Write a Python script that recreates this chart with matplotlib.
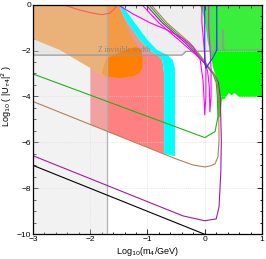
import numpy as np
import matplotlib.pyplot as plt
from matplotlib.ticker import MultipleLocator

# ---- region boundaries (log10 m4 [GeV], log10 |U|^2) ----
# pink region (bottom follows brown curve)
pink_x = [-2.0, -2.0, -1.5, -1.38, -1.13, -0.96, -0.83, -0.74, -0.72, -0.71, -0.71]
pink_y = [-5.22, 0.0, 0.0, -0.67, -1.54, -1.98, -2.2, -2.41, -2.8, -3.0, -6.5]

# cyan band
cyan_x = [-1.5, -1.38, -1.13, -0.96, -0.83, -0.74, -0.72, -0.71, -0.71,
          -0.52, -0.52, -0.56, -0.65, -0.83, -1.0, -1.26, -1.45]
cyan_y = [0.0, -0.67, -1.54, -1.98, -2.2, -2.41, -2.8, -3.0, -6.5,
          -6.6, -2.8, -2.41, -2.2, -1.98, -1.54, -0.67, 0.0]

# orange region (top left)
orange_x = [-3.0, -3.0, -2.53, -2.0, -1.83, -1.48, -1.25, -1.12, -1.08, -1.08,
            -1.13, -1.31, -1.5, -1.53]
orange_y = [0.0, -1.5, -1.98, -2.76, -3.07, -3.2, -3.15, -2.98, -2.72, -2.4,
            -1.98, -1.24, -0.1, 0.0]

# darker orange blob
blob_x = [-1.8, -1.72, -1.55, -1.35, -1.2, -1.11, -1.08, -1.09, -1.13, -1.25,
          -1.48, -1.72]
blob_y = [-3.0, -2.35, -2.15, -1.95, -1.85, -1.95, -2.4, -2.75, -2.98, -3.12,
          -3.2, -3.13]

# green region (top right)
green_x = [-0.09, 1.0, 1.0, 0.6, 0.52, 0.47, 0.42, 0.35, 0.3, 0.27, 0.24,
           0.22, 0.2, 0.14, 0.1, 0.05, 0.02, -0.03]
green_y = [0.0, 0.0, -4.02, -4.02, -3.85, -3.95, -3.85, -4.1, -4.15, -4.9, -4.9,
           -3.6, -3.15, -2.7, -2.1, -1.6, -1.0, -0.4]

# Z invisible width line
z_x = [-3.0, -0.4, -0.33, 0.18, 0.2, 0.21, 0.22, 0.24, 0.3, 0.31, 0.32, 0.33, 0.35, 1.0]
z_y = [-2.2, -2.2, -2.04, -2.02, -1.8, -1.1, -1.8, -2.0, -2.0, -1.5, -1.1, -1.9, -1.98, -1.98]

m_line = -1.71   # vertical grey line

# ---- curves ----
red_x = [-2.48, -2.3, -2.18, -2.0, -1.88, -1.8, -1.66, -1.57, -1.52]
red_y = [0.0, -0.15, -0.24, -0.35, -0.41, -0.44, -0.38, -0.16, 0.0]

black_x = [-3.0, 0.0]
black_y = [-7.0, -10.0]

purple_x = [-1.03, -0.74, -0.34, -0.09, 0.06, 0.17, 0.24, 0.27, 0.29, 0.28, 0.25,
            0.2, 0.0, -0.38, -0.96, -3.0]
purple_y = [0.0, -0.8, -1.67, -2.3, -2.75, -3.05, -3.4, -4.0, -5.9, -7.33, -8.8,
            -9.33, -9.41, -9.2, -8.62, -6.58]

brown_x = [-0.94, -0.66, -0.26, -0.05, 0.08, 0.17, 0.22, 0.24, 0.25, 0.23, 0.18,
           0.1, 0.0, -0.21, -0.5, -3.0]
brown_y = [0.0, -0.8, -1.67, -2.3, -2.75, -3.05, -3.4, -4.0, -5.9, -6.63, -6.93,
           -7.02, -7.07, -6.98, -6.72, -4.22]

green_line_x = [-0.98, -0.7, -0.3, -0.07, 0.06, 0.15, 0.2, 0.22, 0.23, 0.18, 0.0, -3.0]
green_line_y = [0.0, -0.8, -1.67, -2.3, -2.75, -3.05, -3.4, -4.0, -4.88, -5.53, -5.79, -3.02]

magA_x = [-1.52, -1.26, -0.95, -0.66, -0.4, -0.2, -0.08, -0.03, -0.01, 0.0, 0.02,
          0.02, -0.02, -0.05, -0.05]
magA_y = [0.0, -0.4, -0.8, -1.1, -1.45, -1.85, -2.4, -3.3, -4.2, -4.8, -4.0,
          -2.8, -1.6, -0.8, 0.0]

magB_x = [-1.1, -0.8, -0.4, -0.15, 0.0, 0.05, 0.08, 0.09, 0.11, 0.11, 0.09, 0.07, 0.07]
magB_y = [0.0, -0.8, -1.65, -2.2, -2.55, -2.9, -3.6, -4.67, -4.0, -2.8, -1.8, -1.0, 0.0]

blue_x = [0.0, 0.0, 0.02, 0.15, 0.21, 0.21]
blue_y = [0.0, -2.55, -2.77, -2.28, -1.98, 0.0]

# ---- figure ----
fig = plt.figure(figsize=(2.66, 2.59), dpi=100)
ax = fig.add_axes([0.124, 0.0954, 0.861, 0.887])
ax.set_xlim(-3, 1)
ax.set_ylim(-10, 0)

ax.grid(True, which='major', color='#d8d8d8', linestyle=':', linewidth=0.5, zorder=0)

ax.fill(pink_x, pink_y, color='#ff8080', lw=0, zorder=1)
ax.fill(green_x, green_y, color='#00ff00', lw=0, zorder=1)

# Z width shaded region (semi transparent grey)
zx = np.array(z_x)
zy = np.array(z_y)
ax.fill_between(zx, zy, 0, color='#c8c8c8', alpha=0.3, lw=0, zorder=2)

ax.fill(orange_x, orange_y, color='#f29a45', lw=0, zorder=3)
ax.fill(blob_x, blob_y, color='#ff8000', lw=0, zorder=3)
ax.fill(cyan_x, cyan_y, color='#00ffff', lw=0, zorder=3)

# left grey overlay
ax.axvspan(-3, m_line, color='#dcdcdc', alpha=0.35, lw=0, zorder=4)
ax.axvline(m_line, color='#b0b0b0', lw=0.9, zorder=5)
ax.plot(z_x, z_y, color='#999999', lw=0.9, zorder=5)
ax.text(-1.87, -2.17, 'Z invisible width', family='Liberation Serif', fontsize=5.5,
        color='#888888', va='bottom', ha='left', zorder=6)

lw = 0.8
ax.plot(red_x, red_y, color='#f06060', lw=lw, zorder=6)
ax.plot(black_x, black_y, color='black', lw=lw, zorder=6)
ax.plot(purple_x, purple_y, color='#9a1f9f', lw=lw, zorder=6)
ax.plot(brown_x, brown_y, color='#b58050', lw=lw, zorder=6)
ax.plot(green_line_x, green_line_y, color='#20b020', lw=lw, zorder=6)
ax.plot(magA_x, magA_y, color='#ff00ff', lw=lw, zorder=6)
ax.plot(magB_x, magB_y, color='#ff00ff', lw=lw, zorder=6)
ax.plot(blue_x, blue_y, color='#2030ff', lw=lw, zorder=6)

ax.xaxis.set_major_locator(MultipleLocator(1))
ax.xaxis.set_minor_locator(MultipleLocator(0.2))
ax.yaxis.set_major_locator(MultipleLocator(2))
ax.yaxis.set_minor_locator(MultipleLocator(0.5))
ax.tick_params(which='both', direction='in', top=True, right=True,
               labelsize=6, width=0.6, pad=1.5)
ax.tick_params(which='major', length=3.5)
ax.tick_params(which='minor', length=1.8)
for s in ax.spines.values():
    s.set_linewidth(0.9)
    s.set_zorder(10)
for lab in ax.get_xticklabels() + ax.get_yticklabels():
    lab.set_family('Liberation Sans')

ax.set_xlabel(r'Log$_{10}$(m$_4$/GeV)', fontsize=6.5, family='Liberation Sans')
ax.xaxis.set_label_coords(0.5, -0.045)
ax.set_ylabel(r'Log$_{10}$ ( |U$_{\tau4}$|$^2$ )', fontsize=6.5, family='Liberation Sans')
ax.yaxis.set_label_coords(-0.085, 0.6)

fig.savefig('out.png', dpi=100)
